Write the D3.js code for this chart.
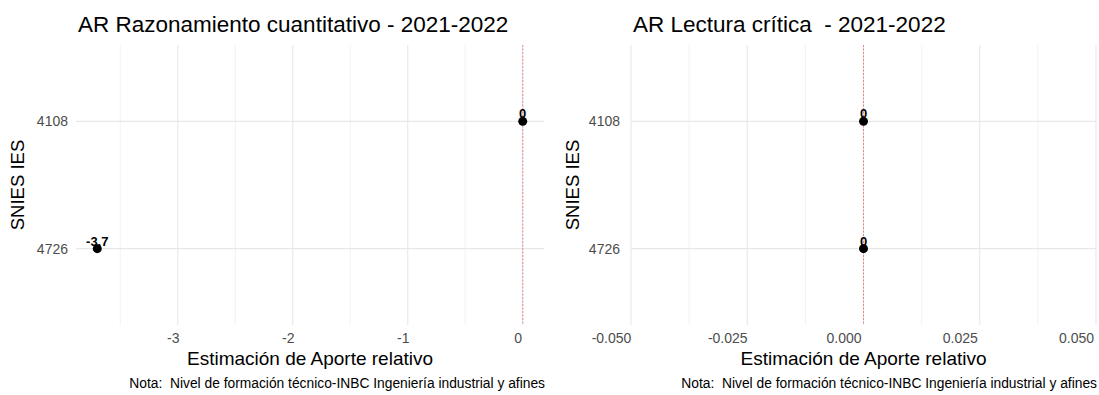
<!DOCTYPE html>
<html>
<head>
<meta charset="utf-8">
<script src="https://cdn.jsdelivr.net/npm/d3@7"></script>
<style>
  html, body { margin: 0; padding: 0; background: #fff; }
  svg { display: block; font-family: "Liberation Sans", Arial, sans-serif; }
  text { white-space: pre; }
</style>
</head>
<body>
<svg id="chart" width="1099" height="395"></svg>
<script>
// ---- data ----
const categories = ["4108", "4726"];
const quantValues = [0, -3.7];           // AR Razonamiento cuantitativo
const quantLabels = ["0", "-3.7"];
const readingValues = [0, 0];            // AR Lectura crítica
const readingLabels = ["0", "0"];
const quantTicks = [-3, -2, -1, 0];
const quantMinor = [-3.5, -2.5, -1.5, -0.5];
const readingTicks = [-0.05, -0.025, 0, 0.025, 0.05];
const readingMinor = [-0.0375, -0.0125, 0.0125, 0.0375];
const titles = ["AR Razonamiento cuantitativo - 2021-2022", "AR Lectura crítica  - 2021-2022"];
const xTitle = "Estimación de Aporte relativo";
const yTitle = "SNIES IES";
const caption = "Nota:  Nivel de formación técnico-INBC Ingeniería industrial y afines";

const svg = d3.select("#chart");
const hyph = f => d => f(d).replace("\u2212", "-");

const panels = [
  { left: 76, right: 544, domain: [-3.885, 0.185], ticks: quantTicks, minor: quantMinor,
    fmt: d => String(d), values: quantValues, labels: quantLabels, title: titles[0],
    ytitleX: 18, labelDx: -5, ypad: 8 },
  { left: 631, right: 1096, domain: [-0.05, 0.05], ticks: readingTicks, minor: readingMinor,
    fmt: hyph(d3.format(".3f")), values: readingValues, labels: readingLabels, title: titles[1],
    ytitleX: 573, labelDx: -20, ypad: 11 }
];
const panelTop = 45, panelBottom = 325;

panels.forEach(p => {
  const x = d3.scaleLinear().domain(p.domain).range([p.left, p.right]);
  const y = d3.scalePoint().domain(categories).range([panelTop, panelBottom]).padding(0.6);
  const g = svg.append("g");

  g.selectAll(".minor").data(p.minor).enter().append("line")
    .attr("x1", d => x(d)).attr("x2", d => x(d)).attr("y1", panelTop).attr("y2", panelBottom)
    .attr("stroke", "#efefef").attr("stroke-width", 0.8);
  g.selectAll(".major").data(p.ticks).enter().append("line")
    .attr("x1", d => x(d)).attr("x2", d => x(d)).attr("y1", panelTop).attr("y2", panelBottom)
    .attr("stroke", "#e8e8e8").attr("stroke-width", 1.1);
  g.selectAll(".hgrid").data(categories).enter().append("line")
    .attr("x1", p.left).attr("x2", p.right).attr("y1", d => y(d)).attr("y2", d => y(d))
    .attr("stroke", "#e8e8e8").attr("stroke-width", 1.1);

  g.append("line")
    .attr("x1", x(0)).attr("x2", x(0)).attr("y1", panelTop).attr("y2", panelBottom)
    .attr("stroke", "#e05050").attr("stroke-width", 0.8).attr("stroke-dasharray", "2,1.5")
    .attr("opacity", 0.8);

  const xa = g.append("g").attr("transform", `translate(0,${panelBottom})`)
    .call(d3.axisBottom(x).tickValues(p.ticks).tickFormat(p.fmt).tickSize(0).tickPadding(8));
  xa.select(".domain").remove();
  xa.selectAll("text").attr("dx", p.labelDx).attr("fill", "#4d4d4d")
    .style("font-size", "14px").style("font-family", "Liberation Sans, Arial, sans-serif");

  const ya = g.append("g").attr("transform", `translate(${p.left},0)`)
    .call(d3.axisLeft(y).tickSize(0).tickPadding(p.ypad));
  ya.select(".domain").remove();
  ya.selectAll("text").attr("fill", "#4d4d4d")
    .style("font-size", "14px").style("font-family", "Liberation Sans, Arial, sans-serif");

  g.selectAll(".pt").data(categories).enter().append("circle")
    .attr("cx", (d, i) => x(p.values[i])).attr("cy", d => y(d)).attr("r", 4.5).attr("fill", "#000");
  g.selectAll(".lbl").data(categories).enter().append("text")
    .attr("x", (d, i) => x(p.values[i])).attr("y", d => y(d) - 3)
    .attr("text-anchor", "middle").attr("font-weight", "bold").attr("font-size", 13)
    .text((d, i) => p.labels[i]);

  g.append("text").attr("x", p.left + 2).attr("y", 32).attr("font-size", 22.5).attr("fill", "#000")
    .text(p.title);
  g.append("text").attr("x", (p.left + p.right) / 2).attr("y", 365).attr("text-anchor", "middle")
    .attr("font-size", 19).attr("fill", "#000").text(xTitle);
  g.append("text").attr("transform", `translate(${p.ytitleX + 6},${(panelTop + panelBottom) / 2}) rotate(-90)`)
    .attr("text-anchor", "middle").attr("font-size", 18.5).attr("fill", "#000").text(yTitle);
  g.append("text").attr("x", p.right + 1).attr("y", 388).attr("text-anchor", "end")
    .attr("font-size", 13.8).attr("fill", "#000").text(caption);
});
</script>
</body>
</html>
